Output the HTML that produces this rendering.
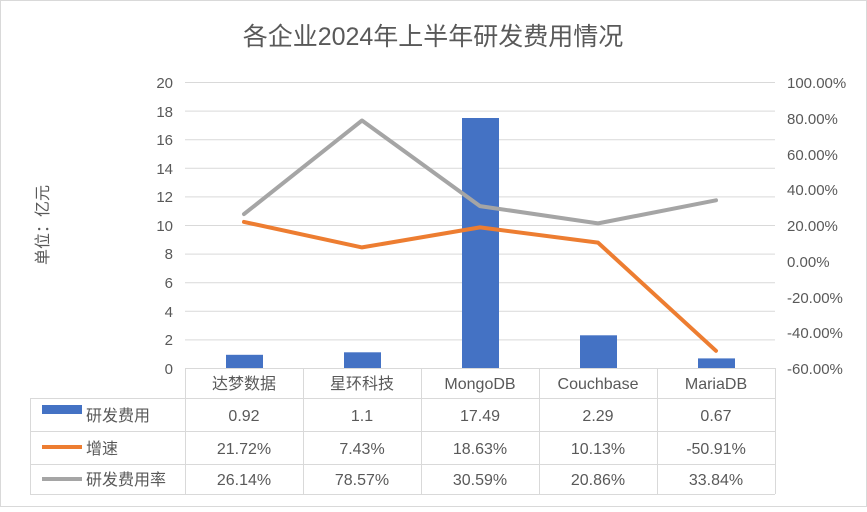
<!DOCTYPE html>
<html><head><meta charset="utf-8"><style>
body{margin:0;background:#fff}
svg text{font-family:"Liberation Sans","Noto Sans CJK SC",sans-serif;fill:#595959}
</style></head><body>
<svg width="867" height="507" xmlns="http://www.w3.org/2000/svg">
<rect x="0.5" y="0.5" width="866" height="506" fill="#fff" stroke="#d9d9d9"/>
<text x="433" y="45" font-size="25" text-anchor="middle">各企业2024年上半年研发费用情况</text>
<text transform="translate(48,225) rotate(-90)" font-size="16" text-anchor="middle">单位：亿元</text>
<g stroke="#d9d9d9" stroke-width="1">
<line x1="185" x2="775" y1="82.5" y2="82.5"/><line x1="185" x2="775" y1="111.1" y2="111.1"/>
<line x1="185" x2="775" y1="139.7" y2="139.7"/><line x1="185" x2="775" y1="168.3" y2="168.3"/>
<line x1="185" x2="775" y1="196.9" y2="196.9"/><line x1="185" x2="775" y1="225.5" y2="225.5"/>
<line x1="185" x2="775" y1="254.1" y2="254.1"/><line x1="185" x2="775" y1="282.7" y2="282.7"/>
<line x1="185" x2="775" y1="311.3" y2="311.3"/><line x1="185" x2="775" y1="339.9" y2="339.9"/>
<line x1="185" x2="775" y1="368.5" y2="368.5"/>
</g>
<g font-size="15" text-anchor="end">
<text x="173" y="88">20</text><text x="173" y="145">16</text><text x="173" y="117">18</text>
<text x="173" y="174">14</text><text x="173" y="202">12</text><text x="173" y="231">10</text>
<text x="173" y="259">8</text><text x="173" y="288">6</text><text x="173" y="317">4</text>
<text x="173" y="345">2</text><text x="173" y="374">0</text>
</g>
<g font-size="15">
<text x="787" y="88">100.00%</text><text x="787" y="124">80.00%</text><text x="787" y="160">60.00%</text>
<text x="787" y="195">40.00%</text><text x="787" y="231">20.00%</text><text x="787" y="267">0.00%</text>
<text x="787" y="303">-20.00%</text><text x="787" y="338">-40.00%</text><text x="787" y="374">-60.00%</text>
</g>
<g fill="#4472c4">
<rect x="226" y="354.8" width="37" height="13.2"/>
<rect x="344" y="352.3" width="37" height="15.7"/>
<rect x="462" y="118" width="37" height="250"/>
<rect x="580" y="335.3" width="37" height="32.7"/>
<rect x="698" y="358.4" width="37" height="9.6"/>
</g>
<polyline points="244,214.1 362,120.5 480,206.1 598,223.4 716,200.3" fill="none" stroke="#a5a5a5" stroke-width="4" stroke-linejoin="round" stroke-linecap="round"/>
<polyline points="244,221.9 362,247.4 480,227.4 598,242.6 716,350.8" fill="none" stroke="#ed7d31" stroke-width="4" stroke-linejoin="round" stroke-linecap="round"/>
<g stroke="#d9d9d9" fill="none">
<line x1="185.5" y1="368" x2="185.5" y2="494"/>
<line x1="303.5" y1="368" x2="303.5" y2="494"/>
<line x1="421.5" y1="368" x2="421.5" y2="494"/>
<line x1="539.5" y1="368" x2="539.5" y2="494"/>
<line x1="657.5" y1="368" x2="657.5" y2="494"/>
<line x1="775.5" y1="368" x2="775.5" y2="494"/>
<line x1="30.5" y1="398" x2="30.5" y2="494"/>
<line x1="30" y1="398.5" x2="775" y2="398.5"/>
<line x1="30" y1="431.5" x2="775" y2="431.5"/>
<line x1="30" y1="464.5" x2="775" y2="464.5"/>
<line x1="30" y1="494.5" x2="775" y2="494.5"/>
</g>
<g font-size="16" text-anchor="middle">
<text x="244" y="389">达梦数据</text><text x="362" y="389">星环科技</text><text x="480" y="389">MongoDB</text>
<text x="598" y="389">Couchbase</text><text x="716" y="389">MariaDB</text>
<text x="244" y="421">0.92</text><text x="362" y="421">1.1</text><text x="480" y="421">17.49</text><text x="598" y="421">2.29</text><text x="716" y="421">0.67</text>
<text x="244" y="454">21.72%</text><text x="362" y="454">7.43%</text><text x="480" y="454">18.63%</text><text x="598" y="454">10.13%</text><text x="716" y="454">-50.91%</text>
<text x="244" y="485">26.14%</text><text x="362" y="485">78.57%</text><text x="480" y="485">30.59%</text><text x="598" y="485">20.86%</text><text x="716" y="485">33.84%</text>
</g>
<rect x="42" y="405" width="40" height="9" fill="#4472c4"/>
<line x1="42" x2="82" y1="447" y2="447" stroke="#ed7d31" stroke-width="4"/>
<line x1="42" x2="82" y1="479" y2="479" stroke="#a5a5a5" stroke-width="4"/>
<g font-size="16">
<text x="86" y="421">研发费用</text><text x="86" y="454">增速</text><text x="86" y="485">研发费用率</text>
</g>
</svg>
</body></html>
